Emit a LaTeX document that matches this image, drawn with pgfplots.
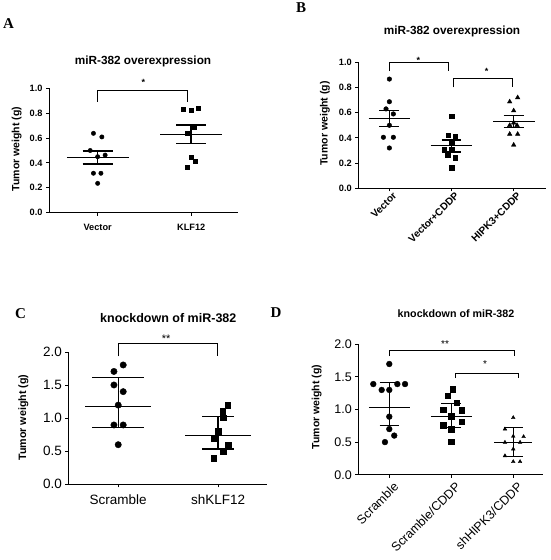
\documentclass[border=0pt]{standalone}
\usepackage{fontspec}
\setmainfont{Liberation Sans}
\newfontfamily\letterfont{Liberation Serif}
\usepackage{pgfplots}
\pgfplotsset{compat=1.18}
\pgfplotsset{
  panel/.style={
    scale only axis, anchor=south west, clip=false,
    axis x line*=bottom, axis y line*=left,
    tick align=outside, major tick length=3pt,
    axis line style={line width=0.9pt, black, -},
    every tick/.style={line width=0.9pt, black},
    ymin=0, xtick={0,1,2},
    /pgf/number format/assume math mode=true,
    yticklabel style={/pgf/number format/.cd, fixed, fixed zerofill, precision=1},
  },
  bold9/.style={tick label style={font=\bfseries\fontsize{9.2}{10}\selectfont}},
}
\newcommand{\sfs}[1]{\fontsize{#1}{#1}\selectfont}
\begin{document}
\begin{tikzpicture}
\useasboundingbox (0,0) rectangle (550pt,560pt);

% ---------------- Panel A ----------------
\begin{axis}[panel, bold9, at={(49pt,347.3pt)}, width=189pt, height=124.4pt,
  xmin=-0.52, xmax=1.5, ymax=1.0, ytick={0,0.2,0.4,0.6,0.8,1.0},
  xtick={0,1}, xticklabels={Vector,KLF12},
  x tick label style={yshift=-5pt}]
\addplot[only marks, mark=*, mark size=2.2pt, black] coordinates {
 (-0.045,0.638) (0.045,0.609) (-0.08,0.50) (0,0.45) (0.08,0.463) (-0.045,0.317) (0.035,0.317) (0,0.236)};
\addplot[only marks, mark=square*, mark size=2.0pt, black] coordinates {
 (0.918,0.834) (1,0.82) (1.078,0.839) (1.035,0.686) (0.96,0.638) (1,0.45) (1.043,0.41) (0.96,0.362)};
% mean and SEM
\addplot[black, line width=1.5pt] coordinates {(-0.33,0.445) (0.33,0.445)};
\addplot[black, line width=1.5pt] coordinates {(-0.16,0.496) (0.16,0.496)};
\addplot[black, line width=1.5pt] coordinates {(-0.16,0.392) (0.16,0.392)};
\addplot[black, line width=1.5pt] coordinates {(0,0.392) (0,0.496)};
\addplot[black, line width=1.5pt] coordinates {(0.67,0.63) (1.33,0.63)};
\addplot[black, line width=1.5pt] coordinates {(0.84,0.705) (1.16,0.705)};
\addplot[black, line width=1.5pt] coordinates {(0.84,0.558) (1.16,0.558)};
\addplot[black, line width=1.5pt] coordinates {(1,0.558) (1,0.705)};
% bracket
\addplot[black, line width=0.9pt] coordinates {(0,0.893) (0,0.979) (0.96,0.979) (0.96,0.893)};
\node[font=\bfseries\sfs{9}] at (axis cs:0.49,1.045) {*};
\end{axis}

% ---------------- Panel B ----------------
\begin{axis}[panel, bold9, at={(358.3pt,371.7pt)}, width=187.7pt, height=126pt,
  xmin=-0.5, xmax=2.52, ymax=1.0, ytick={0,0.2,0.4,0.6,0.8,1.0},
  xtick={0,1,2}, xticklabels={Vector,Vector+CDDP,HIPK3+CDDP},
  x tick label style={rotate=45, anchor=north east, inner sep=1pt, xshift=3pt, yshift=-1pt,
    font=\bfseries\sfs{10.2}}]
\addplot[only marks, mark=*, mark size=2.3pt, black] coordinates {
 (0,0.867) (0,0.687) (-0.054,0.63) (0.064,0.59) (0,0.50) (-0.096,0.405) (0.064,0.405) (0,0.32)};
\addplot[only marks, mark=square*, mark size=2.2pt, black] coordinates {
 (1,0.571) (0.946,0.423) (1.059,0.41) (1,0.36) (0.882,0.31) (1,0.31) (0.936,0.264) (1.059,0.243) (1,0.164)};
\addplot[only marks, mark=triangle*, mark size=2.6pt, black] coordinates {
 (1.936,0.687) (2.064,0.72) (2,0.616) (1.936,0.50) (2.054,0.50) (2,0.52) (1.936,0.43) (2.064,0.43) (2,0.344)};
\addplot[black, line width=1.5pt] coordinates {(-0.335,0.553) (0.335,0.553)};
\addplot[black, line width=1.5pt] coordinates {(-0.16,0.616) (0.16,0.616)};
\addplot[black, line width=1.5pt] coordinates {(-0.16,0.489) (0.16,0.489)};
\addplot[black, line width=1.5pt] coordinates {(0,0.489) (0,0.616)};
\addplot[black, line width=1.5pt] coordinates {(0.665,0.338) (1.335,0.338)};
\addplot[black, line width=1.5pt] coordinates {(0.84,0.383) (1.16,0.383)};
\addplot[black, line width=1.5pt] coordinates {(0.84,0.29) (1.16,0.29)};
\addplot[black, line width=1.5pt] coordinates {(1,0.29) (1,0.383)};
\addplot[black, line width=1.5pt] coordinates {(1.67,0.53) (2.335,0.53)};
\addplot[black, line width=1.5pt] coordinates {(1.84,0.576) (2.16,0.576)};
\addplot[black, line width=1.5pt] coordinates {(1.84,0.484) (2.16,0.484)};
\addplot[black, line width=1.5pt] coordinates {(2,0.484) (2,0.576)};
\addplot[black, line width=0.9pt] coordinates {(0,0.93) (0,1.0) (0.95,1.0) (0.95,0.93)};
\addplot[black, line width=0.9pt] coordinates {(1.03,0.80) (1.03,0.873) (1.98,0.873) (1.98,0.80)};
\node[font=\bfseries\sfs{9}] at (axis cs:0.465,1.015) {*};
\node[font=\bfseries\sfs{9}] at (axis cs:1.566,0.93) {*};
\end{axis}

% ---------------- Panel C ----------------
\begin{axis}[panel, at={(68.3pt,75.7pt)}, width=198.7pt, height=132pt,
  tick label style={font=\sfs{13.5}},
  x tick label style={yshift=-4pt},
  xmin=-0.5, xmax=1.49, ymax=2.0, ytick={0,0.5,1.0,1.5,2.0},
  xtick={0,1}, xticklabels={Scramble,shKLF12}]
\addplot[only marks, mark=*, mark size=3.2pt, black] coordinates {
 (0.05,1.808) (-0.043,1.71) (-0.043,1.505) (0.05,1.404) (0,1.20) (-0.043,0.899) (0.05,0.899) (0,0.60)};
\addplot[only marks, mark=square*, mark size=2.9pt, black] coordinates {
 (1.097,1.20) (1.047,1.106) (1.05,1.01) (1,0.80) (0.957,0.70) (1.103,0.60) (1.05,0.50) (0.957,0.40)};
\addplot[black, line width=1.2pt] coordinates {(-0.33,1.18) (0.33,1.18)};
\addplot[black, line width=1.2pt] coordinates {(-0.26,1.62) (0.26,1.62)};
\addplot[black, line width=1.2pt] coordinates {(-0.26,0.864) (0.26,0.864)};
\addplot[black, line width=1.2pt] coordinates {(0,0.864) (0,1.62)};
\addplot[black, line width=1.2pt] coordinates {(0.67,0.742) (1.33,0.742)};
\addplot[black, line width=1.2pt] coordinates {(0.84,1.025) (1.16,1.025)};
\addplot[black, line width=1.2pt] coordinates {(0.84,0.535) (1.16,0.535)};
\addplot[black, line width=1.2pt] coordinates {(1,0.535) (1,1.025)};
\addplot[black, line width=0.9pt] coordinates {(0,1.94) (0,2.136) (0.99,2.136) (0.99,1.94)};
\node[font=\sfs{11}] at (axis cs:0.48,2.2) {**};
\end{axis}

% ---------------- Panel D ----------------
\begin{axis}[panel, at={(358.3pt,85.3pt)}, width=184.7pt, height=130.4pt,
  tick label style={font=\sfs{12.5}},
  xmin=-0.5, xmax=2.48, ymax=2.0, ytick={0,0.5,1.0,1.5,2.0},
  xtick={0,1,2}, xticklabels={Scramble,Scramble/CDDP,shHIPK3/CDDP},
  x tick label style={rotate=45, anchor=north east, inner sep=1pt, xshift=1pt, yshift=-4pt}]
\addplot[only marks, mark=*, mark size=2.9pt, black] coordinates {
 (0,1.698) (-0.258,1.39) (0.13,1.39) (0.254,1.39) (-0.123,1.30) (0,1.30) (0,0.89) (0,0.70) (0.08,0.60) (-0.07,0.50)};
\addplot[only marks, mark=square*, mark size=2.7pt, black] coordinates {
 (1.02,1.31) (0.94,1.21) (1.086,1.10) (0.87,1.00) (1.167,0.99) (1,0.90) (0.87,0.76) (1.167,0.81) (1,0.70) (1,0.51)};
\addplot[only marks, mark=triangle*, mark size=2.1pt, black] coordinates {
 (2,0.875) (1.866,0.70) (2.167,0.583) (2,0.59) (1.866,0.497) (2.11,0.497) (2,0.394) (1.866,0.29) (2,0.20) (2.11,0.20)};
\addplot[black, line width=1.2pt] coordinates {(-0.33,1.03) (0.33,1.03)};
\addplot[black, line width=1.2pt] coordinates {(-0.155,1.41) (0.155,1.41)};
\addplot[black, line width=1.2pt] coordinates {(-0.155,0.76) (0.155,0.76)};
\addplot[black, line width=1.2pt] coordinates {(0,0.76) (0,1.41)};
\addplot[black, line width=1.2pt] coordinates {(0.67,0.89) (1.33,0.89)};
\addplot[black, line width=1.2pt] coordinates {(0.84,1.09) (1.16,1.09)};
\addplot[black, line width=1.2pt] coordinates {(0.84,0.72) (1.16,0.72)};
\addplot[black, line width=1.2pt] coordinates {(1,0.72) (1,1.09)};
\addplot[black, line width=1.2pt] coordinates {(1.69,0.497) (2.31,0.497)};
\addplot[black, line width=1.2pt] coordinates {(1.85,0.72) (2.15,0.72)};
\addplot[black, line width=1.2pt] coordinates {(1.85,0.276) (2.15,0.276)};
\addplot[black, line width=1.2pt] coordinates {(2,0.276) (2,0.72)};
\addplot[black, line width=0.9pt] coordinates {(0,1.82) (0,1.90) (2.02,1.90) (2.02,1.82)};
\addplot[black, line width=0.9pt] coordinates {(1.06,1.48) (1.06,1.555) (2.08,1.555) (2.08,1.48)};
\node[font=\sfs{10}] at (axis cs:0.9,2.0) {**};
\node[font=\sfs{10}] at (axis cs:1.545,1.69) {*};
\end{axis}

% ---------------- Titles, labels, panel letters ----------------
\node[font=\bfseries\sfs{11.8}] at (143pt,499pt) {miR-382 overexpression};
\node[font=\bfseries\sfs{11.8}] at (452pt,528.3pt) {miR-382 overexpression};
\node[font=\bfseries\sfs{12.5}] at (168.3pt,241.7pt) {knockdown of miR-382};
\node[font=\bfseries\sfs{10.7}] at (456pt,246.7pt) {knockdown of miR-382};

\node[font=\bfseries\sfs{10.5}, rotate=90] at (16.7pt,410.8pt) {Tumor weight (g)};
\node[font=\bfseries\sfs{10.5}, rotate=90] at (325pt,436.5pt) {Tumor weight (g)};
\node[font=\bfseries\sfs{10.7}, rotate=90] at (23.3pt,142.5pt) {Tumor weight (g)};
\node[font=\bfseries\sfs{10.5}, rotate=90] at (316.7pt,152.8pt) {Tumor weight (g)};

\node[font=\letterfont\bfseries\sfs{15}] at (8.5pt,536pt) {A};
\node[font=\letterfont\bfseries\sfs{15}] at (301pt,552pt) {B};
\node[font=\letterfont\bfseries\sfs{15}] at (20.5pt,246.7pt) {C};
\node[font=\letterfont\bfseries\sfs{15}] at (276pt,247pt) {D};
\end{tikzpicture}
\end{document}
